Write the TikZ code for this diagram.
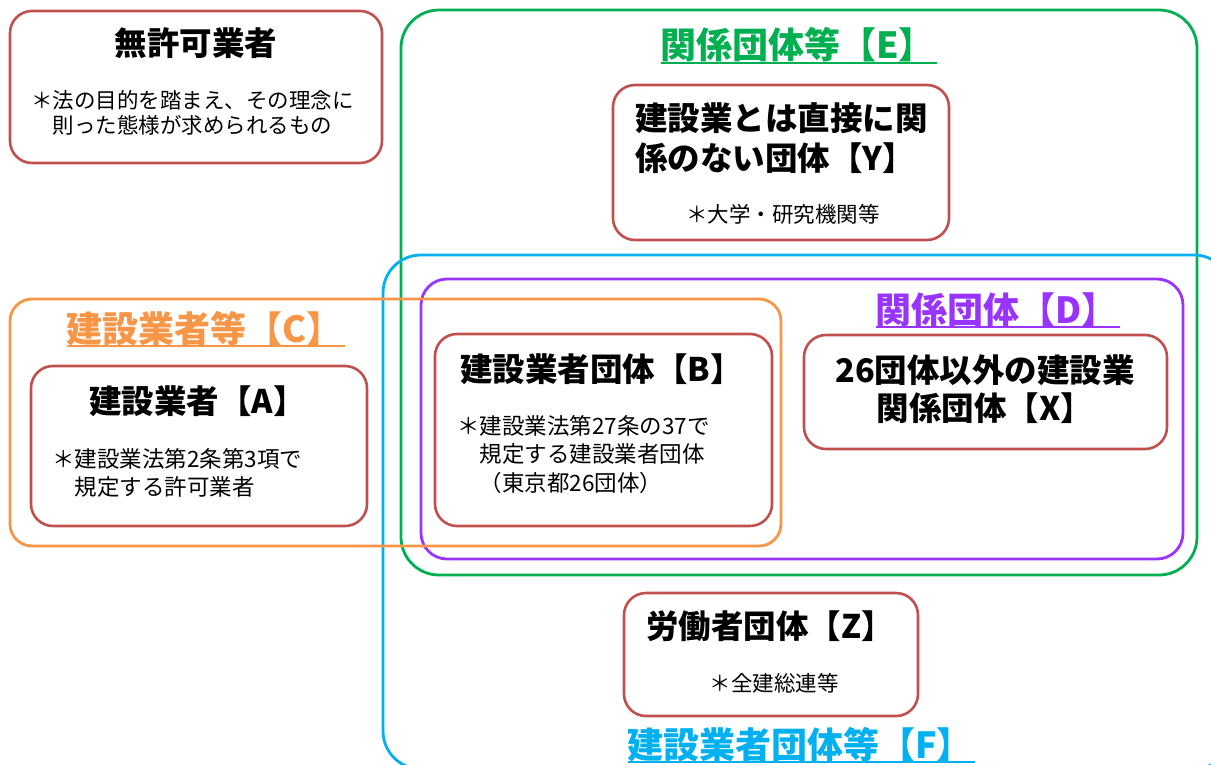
\documentclass[tikz,border=0pt]{standalone}
\usepackage{fontspec}
\setmainfont{Noto Sans CJK JP}
\definecolor{boxred}{HTML}{C0504D}
\definecolor{egreen}{HTML}{00B050}
\definecolor{fblue}{HTML}{00B0F0}
\definecolor{dpurple}{HTML}{9933FF}
\definecolor{corange}{HTML}{F79646}
\tikzset{
  redbox/.style={draw=boxred, line width=2.6pt, rounded corners=22pt},
  areabox/.style={line width=2.8pt, rounded corners=38pt},
  ttl/.style={font=\fontsize{32.5}{40}\selectfont\bfseries, inner sep=0pt, align=center},
  sub/.style={font=\fontsize{21.5}{28.5}\selectfont, inner sep=0pt, align=left},
  lbl/.style={font=\fontsize{36}{40}\selectfont\bfseries, inner sep=0pt, anchor=west},
  uline/.style={line width=1.6pt}
}
\begin{document}
\begin{tikzpicture}[x=1pt,y=-1pt]
\useasboundingbox (0,0) rectangle (1211,764);
\clip (0,0) rectangle (1211,764);
% area boxes
\draw[areabox, draw=egreen] (401,10) rectangle (1197,575);
\draw[areabox, draw=fblue] (383,255) rectangle (1232,769);
\draw[areabox, draw=dpurple, rounded corners=26pt] (421,279) rectangle (1183,559);
\draw[areabox, draw=corange, rounded corners=22pt] (10,299) rectangle (781,546);
% red boxes
\draw[redbox] (10,11) rectangle (382,163);
\draw[redbox] (613,85) rectangle (949,240);
\draw[redbox] (31,366) rectangle (367,526);
\draw[redbox] (435,334) rectangle (772,526);
\draw[redbox] (804,335) rectangle (1167,449);
\draw[redbox] (624,593) rectangle (918,716);
% area labels
\node[lbl, text=egreen] (lE) at (660,45) {関係団体等【E】};
\draw[uline, egreen] (661,63) -- (937,63);
\node[lbl, text=corange] (lC) at (66,329) {建設業者等【C】};
\draw[uline, corange] (67,346) -- (345,346);
\node[lbl, text=dpurple] (lD) at (875,310) {関係団体【D】};
\draw[uline, dpurple] (876,327) -- (1120,327);
\node[lbl, text=fblue] (lF) at (627,745) {建設業者団体等【F】};
\draw[uline, fblue] (628,762) -- (975,762);
% box texts
\node[ttl] (t0) at (196,43) {無許可業者};
\node[sub, anchor=west, font=\fontsize{21.5}{25}\selectfont] (s0) at (31,112.5) {＊法の目的を踏まえ、その理念に\\　則った態様が求められるもの};
\node[ttl, anchor=west, align=left] (tY) at (635,138) {建設業とは直接に関\\係のない団体【Y】};
\node[sub] (sY) at (783,214) {＊大学・研究機関等};
\node[ttl, anchor=west] (tA) at (89,401) {建設業者【A】};
\node[sub, anchor=west, font=\fontsize{22.5}{28}\selectfont] (sA) at (52,473) {＊建設業法第2条第3項で\\　規定する許可業者};
\node[ttl, anchor=west] (tB) at (460,369) {建設業者団体【B】};
\node[sub, anchor=west, font=\fontsize{22.5}{28.5}\selectfont] (sB) at (457,454.5) {＊建設業法第27条の37で\\　規定する建設業者団体\\　（東京都26団体）};
\node[ttl, font=\fontsize{32.5}{38}\selectfont\bfseries] (tX) at (985,389) {26団体以外の建設業\\関係団体【X】};
\node[ttl, anchor=west] (tZ) at (646,626) {労働者団体【Z】};
\node[sub] (sZ) at (774,683) {＊全建総連等};
\end{tikzpicture}
\end{document}
